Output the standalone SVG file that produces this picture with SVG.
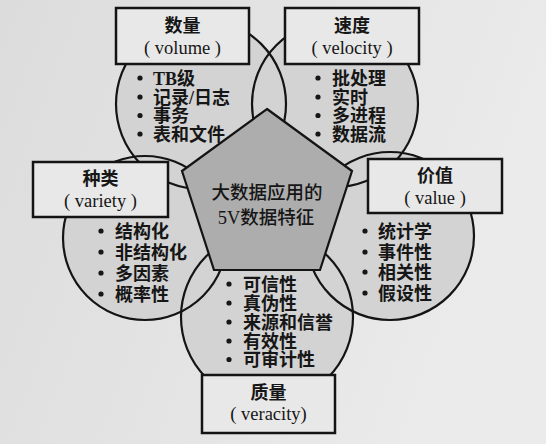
<svg xmlns="http://www.w3.org/2000/svg" width="546" height="444" viewBox="0 0 546 444">
<defs>
<linearGradient id="bg" x1="0" y1="0" x2="1" y2="0.3">
<stop offset="0" stop-color="#dcdcdc"/>
<stop offset="1" stop-color="#ebebeb"/>
</linearGradient>
<style>
.cf{fill:#d3d3d3;stroke:none}
.cs{fill:none;stroke:#141414;stroke-width:2.2}
.box{fill:#e8e8e8;stroke:#141414;stroke-width:2.5}
.pent{fill:#adadad;stroke:#141414;stroke-width:2.2}
.zh{font-family:"Liberation Serif","Noto Sans CJK SC",serif;font-size:18px;font-weight:bold;fill:#161616}
.en{font-family:"Liberation Serif",serif;font-size:18.5px;fill:#161616}
.ct{text-anchor:middle}
.li{font-family:"Liberation Serif","Noto Sans CJK SC",serif;font-size:18px;font-weight:bold;fill:#161616}
.pt{font-family:"Liberation Serif","Noto Sans CJK SC",serif;font-size:18.5px;font-weight:500;fill:#161616;text-anchor:middle}
.bu{fill:#161616}
</style>
</defs>
<rect width="546" height="444" fill="url(#bg)"/>
<g id="circles">
<circle class="cf" cx="201" cy="104" r="85"/>
<circle class="cf" cx="335" cy="104" r="83"/>
<circle class="cf" cx="145" cy="238" r="82"/>
<circle class="cf" cx="390" cy="236" r="84"/>
<circle class="cf" cx="267" cy="317" r="86"/>
<circle class="cs" cx="201" cy="104" r="85"/>
<circle class="cs" cx="335" cy="104" r="83"/>
<circle class="cs" cx="145" cy="238" r="82"/>
<circle class="cs" cx="390" cy="236" r="84"/>
<circle class="cs" cx="267" cy="317" r="86"/>
</g>
<g id="center">
<polygon class="pent" points="267,109 352,171 320,270 214,270 182,171"/>
<text class="pt" x="267" y="199">大数据应用的</text>
<text class="pt" x="266" y="224">5V数据特征</text>
</g>
<g id="volume">
<rect class="box" x="116" y="8" width="133" height="56"/>
<text class="zh ct" x="182.5" y="31.5">数量</text>
<text class="en ct" x="182.5" y="54">( volume )</text>
<circle class="bu" cx="140" cy="78" r="2.6"/>
<circle class="bu" cx="140" cy="97" r="2.6"/>
<circle class="bu" cx="140" cy="115.5" r="2.6"/>
<circle class="bu" cx="140" cy="134" r="2.6"/>
<text class="li" x="153" y="84.5">TB级</text>
<text class="li" x="153" y="103.5">记录/日志</text>
<text class="li" x="153" y="122">事务</text>
<text class="li" x="153" y="140.5">表和文件</text>
</g>
<g id="velocity">
<rect class="box" x="285" y="8" width="134" height="56"/>
<text class="zh ct" x="352" y="31.5">速度</text>
<text class="en ct" x="352" y="54">( velocity )</text>
<circle class="bu" cx="318" cy="78" r="2.6"/>
<circle class="bu" cx="318" cy="97" r="2.6"/>
<circle class="bu" cx="318" cy="115.5" r="2.6"/>
<circle class="bu" cx="318" cy="134" r="2.6"/>
<text class="li" x="332" y="84.5">批处理</text>
<text class="li" x="332" y="103.5">实时</text>
<text class="li" x="332" y="122">多进程</text>
<text class="li" x="332" y="140.5">数据流</text>
</g>
<g id="variety">
<rect class="box" x="33" y="162" width="135" height="55"/>
<text class="zh ct" x="100.5" y="185">种类</text>
<text class="en ct" x="100.5" y="207">( variety )</text>
<circle class="bu" cx="101" cy="231" r="2.6"/>
<circle class="bu" cx="101" cy="252" r="2.6"/>
<circle class="bu" cx="101" cy="273" r="2.6"/>
<circle class="bu" cx="101" cy="294" r="2.6"/>
<text class="li" x="115" y="237.5">结构化</text>
<text class="li" x="115" y="258.5">非结构化</text>
<text class="li" x="115" y="279.5">多因素</text>
<text class="li" x="115" y="300.5">概率性</text>
</g>
<g id="value">
<rect class="box" x="368" y="159" width="134" height="54"/>
<text class="zh ct" x="435" y="182">价值</text>
<text class="en ct" x="435" y="203.5">( value )</text>
<circle class="bu" cx="365" cy="231" r="2.6"/>
<circle class="bu" cx="365" cy="252" r="2.6"/>
<circle class="bu" cx="365" cy="272" r="2.6"/>
<circle class="bu" cx="365" cy="293" r="2.6"/>
<text class="li" x="378" y="237.5">统计学</text>
<text class="li" x="378" y="258.5">事件性</text>
<text class="li" x="378" y="278.5">相关性</text>
<text class="li" x="378" y="299.5">假设性</text>
</g>
<g id="veracity">
<rect class="box" x="202" y="375" width="133" height="58"/>
<text class="zh ct" x="268.5" y="399">质量</text>
<text class="en ct" x="268.5" y="420">( veracity)</text>
<circle class="bu" cx="229" cy="284" r="2.6"/>
<circle class="bu" cx="229" cy="303" r="2.6"/>
<circle class="bu" cx="229" cy="322" r="2.6"/>
<circle class="bu" cx="229" cy="341" r="2.6"/>
<circle class="bu" cx="229" cy="359.5" r="2.6"/>
<text class="li" x="243" y="290.5">可信性</text>
<text class="li" x="243" y="309.5">真伪性</text>
<text class="li" x="243" y="328.5">来源和信誉</text>
<text class="li" x="243" y="347.5">有效性</text>
<text class="li" x="243" y="366">可审计性</text>
</g>
</svg>
